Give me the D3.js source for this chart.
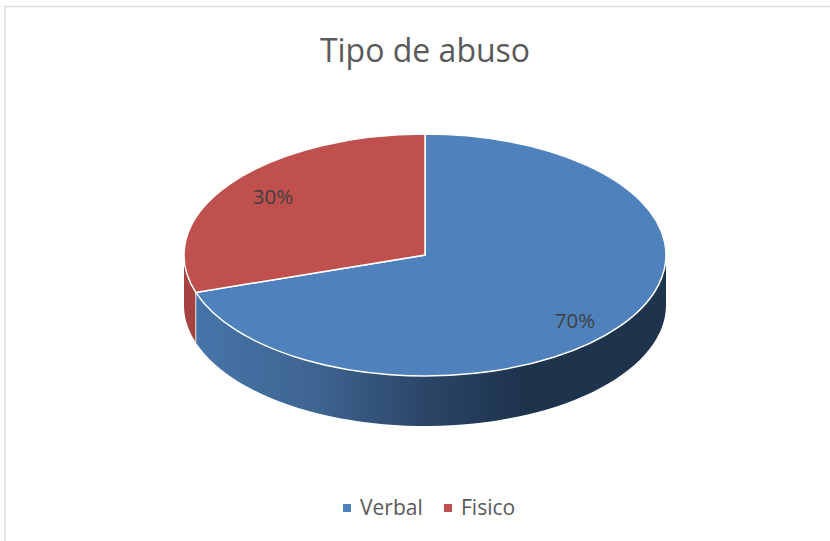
<!DOCTYPE html>
<html lang="en">
<head>
<meta charset="UTF-8">
<title>Tipo de abuso</title>
<script src="https://cdn.jsdelivr.net/npm/d3@7"></script>
<style>
  html, body { margin: 0; padding: 0; background: #fff; }
  svg { display: block; }
  text { font-family: "Open Sans", "Noto Sans", sans-serif; }
</style>
</head>
<body>
<div id="chart"></div>
<script>
var categories = ["Verbal", "Fisico"];
var values = [70, 30];
var colors = ["#4f81bd", "#c0504d"];

var width = 830, height = 541;
var cx = 425, cy = 255, rx = 241, ry = 121, depth = 50;

var svg = d3.select("#chart").append("svg")
  .attr("width", width)
  .attr("height", height);

// chart frame, only top and left show in the picture
svg.append("path")
  .attr("d", "M5,541V6.5H830")
  .attr("fill", "none")
  .attr("stroke", "#dcdcdc")
  .attr("stroke-width", 1.6);

svg.append("text")
  .attr("x", 425).attr("y", 62)
  .attr("text-anchor", "middle")
  .attr("font-size", 32)
  .attr("fill", "#595959")
  .text("Tipo de abuso");

var defs = svg.append("defs");
var grad = defs.append("linearGradient")
  .attr("id", "sideBlue")
  .attr("gradientUnits", "userSpaceOnUse")
  .attr("x1", 196).attr("x2", 666).attr("y1", 0).attr("y2", 0);
grad.append("stop").attr("offset", "0").attr("stop-color", "#4674a9");
grad.append("stop").attr("offset", "0.25").attr("stop-color", "#3f6592");
grad.append("stop").attr("offset", "0.48").attr("stop-color", "#2b4668");
grad.append("stop").attr("offset", "0.7").attr("stop-color", "#1e334c");
grad.append("stop").attr("offset", "1").attr("stop-color", "#1e334c");

var pie = d3.pie().sort(null).value(function(d) { return d; });
var slices = pie(values);

// same pie angle -> point on the tilted ellipse
function px(a) { return cx + rx * Math.sin(a); }
function py(a) { return cy - ry * Math.cos(a); }

// wall under the rim between two angles (only the front half shows)
function wall(a0, a1) {
  var path = d3.path();
  var n = 60, i, a;
  for (i = 0; i <= n; i++) {
    a = a0 + (a1 - a0) * i / n;
    if (i == 0) path.moveTo(px(a), py(a));
    else path.lineTo(px(a), py(a));
  }
  for (i = n; i >= 0; i--) {
    a = a0 + (a1 - a0) * i / n;
    path.lineTo(px(a), py(a) + depth);
  }
  path.closePath();
  return path.toString();
}

var split = slices[0].endAngle;

// front wall: blue from right edge to the split, red from split to left edge
svg.append("path")
  .attr("d", wall(Math.PI / 2, split))
  .attr("fill", "url(#sideBlue)");
svg.append("path")
  .attr("d", wall(split, 3 * Math.PI / 2))
  .attr("fill", "#a5423f");
svg.append("line")
  .attr("x1", px(split)).attr("y1", py(split))
  .attr("x2", px(split)).attr("y2", py(split) + depth)
  .attr("stroke", "#e4e4e4").attr("stroke-width", 1);

// top of the pie, arcs squashed into an ellipse
var arc = d3.arc().innerRadius(0).outerRadius(rx);
svg.append("g")
  .attr("transform", "translate(" + cx + "," + cy + ") scale(1," + (ry / rx) + ")")
  .selectAll("path")
  .data(slices)
  .enter().append("path")
  .attr("d", arc)
  .attr("fill", function(d, i) { return colors[i]; })
  .attr("stroke", "#fff")
  .attr("stroke-width", 1.5)
  .attr("vector-effect", "non-scaling-stroke");

// data labels
var labelPos = [[575, 321], [273, 197]];
svg.selectAll(".label")
  .data(values)
  .enter().append("text")
  .attr("class", "label")
  .attr("x", function(d, i) { return labelPos[i][0]; })
  .attr("y", function(d, i) { return labelPos[i][1]; })
  .attr("dy", "0.35em")
  .attr("text-anchor", "middle")
  .attr("font-size", 20.5)
  .attr("fill", "#404040")
  .text(function(d) { return d + "%"; });

// legend
var legendX = [343, 444];
var legend = svg.selectAll(".legend")
  .data(categories)
  .enter().append("g")
  .attr("class", "legend")
  .attr("transform", function(d, i) { return "translate(" + legendX[i] + ",508)"; });
legend.append("rect")
  .attr("y", -4).attr("width", 8).attr("height", 8)
  .attr("fill", function(d, i) { return colors[i]; });
legend.append("text")
  .attr("x", 17)
  .attr("dy", "0.35em")
  .attr("font-size", 21)
  .attr("fill", "#595959")
  .text(function(d) { return d; });
</script>
</body>
</html>
